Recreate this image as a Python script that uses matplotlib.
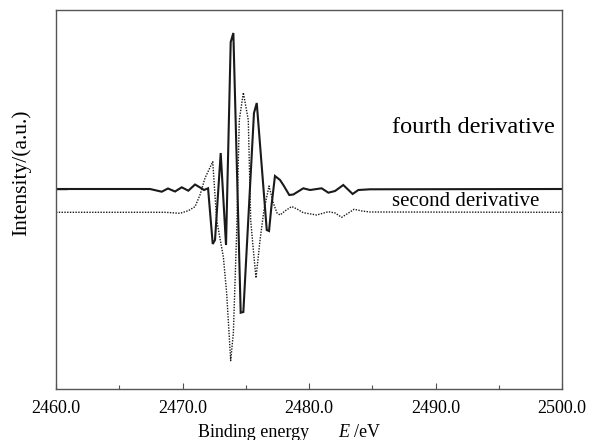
import matplotlib
matplotlib.use("Agg")
import matplotlib.pyplot as plt
from matplotlib.ticker import MultipleLocator, FixedLocator

plt.rcParams['font.family'] = ['Liberation Serif', 'DejaVu Serif']
plt.rcParams['mathtext.fontset'] = 'custom'
plt.rcParams['mathtext.rm'] = 'Liberation Serif'
plt.rcParams['mathtext.it'] = 'Liberation Serif:italic'

# fourth derivative (solid)
e4 = [2460.0, 2467.43, 2468.36, 2468.85, 2469.41, 2469.94, 2470.46, 2470.99, 2471.52,
      2471.70, 2472.02, 2472.39, 2472.57, 2473.02, 2473.44, 2473.81, 2474.02, 2474.60,
      2474.81, 2475.65, 2475.87, 2476.66, 2476.84, 2477.04, 2477.31, 2477.71, 2477.97,
      2478.44, 2478.76, 2479.55, 2480.08, 2481.00, 2481.53, 2482.06, 2482.71, 2483.45,
      2483.90, 2484.82, 2500.0]
i4 = [0, 0, -2.7, 0.5, -2.5, 1.7, -1.7, 4.5, 0.5,
      -1, 0.7, -55, -51, 36, -56, 147, 156, -123.7,
      -123, 76, 86, -41, -42, -16, 13, 9, 4,
      -6, -5.5, 0.7, -1, 0.7, -3.7, -2, 4, -5,
      -1, -0.3, 0]

# second derivative (dotted)
e2 = [2460.0, 2468.62, 2469.80, 2470.46, 2470.99, 2471.38, 2471.78, 2472.39, 2472.70,
      2473.23, 2473.49, 2473.81, 2474.02, 2474.28, 2474.49, 2474.81, 2475.20, 2475.39,
      2475.60, 2475.81, 2476.13, 2476.44, 2476.84, 2477.18, 2477.47, 2477.71, 2478.10,
      2478.63, 2479.05, 2479.55, 2480.61, 2481.53, 2482.06, 2482.58, 2483.00, 2483.56,
      2484.19, 2484.82, 2500.0]
i2 = [0, 0, -1, 1.6, 5.6, 17.3, 34.3, 50.6, -7.7,
      -44.7, -80.7, -148.4, -120.7, -20.7, 92.3, 119.6, 92.3, -7.7,
      -37.7, -65.7, -27.7, 2.3, 26.3, 9.3, -0.7, -2.7, 1.3,
      5.8, 3.3, -0.4, -2.7, 0.6, -0.7, -5, -1.7, 3,
      1.3, 0.3, 0]
offset2 = -23.3

xticks = [2460, 2470, 2480, 2490, 2500]
xticklabels = ["2460.0", "2470.0", "2480.0", "2490.0", "2500.0"]

fig = plt.figure(figsize=(5.99, 4.40), dpi=100)
ax = fig.add_axes([56/599, 1-389/440, (562-56)/599, (389-10)/440])

ax.plot(e4, i4, color='#1a1a1a', lw=1.5, solid_joinstyle='miter')
ax.plot(e2, [v + offset2 for v in i2], color='#1a1a1a', lw=1.0, linestyle=(0, (1, 1)))

ax.set_xlim(2460, 2500)
ax.set_ylim(-200, 179)
ax.set_xticks(xticks)
ax.set_xticklabels(xticklabels, fontsize=13)
ax.xaxis.set_minor_locator(MultipleLocator(5))
ax.yaxis.set_major_locator(FixedLocator([0]))
ax.set_yticklabels([])
ax.tick_params(axis='x', which='major', direction='in', length=4, width=0.8, color='#505050', pad=8)
ax.tick_params(axis='x', which='minor', direction='in', length=3, width=0.8, color='#505050')
ax.tick_params(axis='y', which='major', direction='in', length=8, width=1.0, color='#303030')
for s in ax.spines.values():
    s.set_color('#555555')
    s.set_linewidth(1.0)

ax.text(0.824, (389-127)/379, "fourth derivative", transform=ax.transAxes,
        ha='center', va='center', fontsize=17.5)
ax.text(0.81, (389-201)/379, "second derivative", transform=ax.transAxes,
        ha='center', va='center', fontsize=15)

fig.text(198/599, 1-432/440, "Binding energy", fontsize=13, ha='left', va='center')
fig.text(338/599, 1-432/440, "$E$ /eV", fontsize=13, ha='left', va='center')
ax.set_ylabel("Intensity/(a.u.)", fontsize=15.5)
ax.yaxis.set_label_coords(-0.05, (389-173)/379)

fig.savefig("out.png", dpi=100)
